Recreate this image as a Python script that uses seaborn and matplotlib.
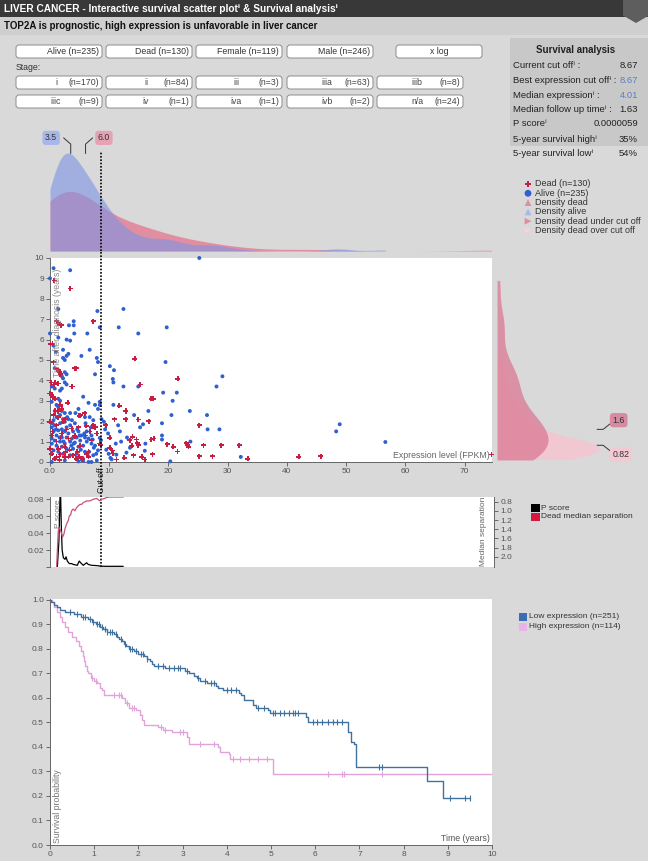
import numpy as np
import pandas as pd
import matplotlib
matplotlib.use("Agg")
import matplotlib.pyplot as plt
import matplotlib.transforms as mtransforms
from matplotlib.patches import FancyBboxPatch, Rectangle, RegularPolygon
import seaborn as sns

# ---------------- data ----------------
cutoff = 8.67
median_alive_expr = 3.5
median_dead_expr = 6.0
median_time_under = 1.6
median_time_over = 0.82

alive_expr = [25.2, 0.0, 3.4, 0.6, 12.4, 8.0, 1.4, 11.6, 19.7, 8.4, 3.2, 4.0, 4.0, 6.3, 4.1, 0.0, 1.4, 2.8, 3.4, 14.9,
              0.6, 1.0, 6.7, 5.3, 3.1, 2.2, 19.5, 10.1, 10.8, 10.6, 10.7, 29.1, 28.1, 14.9, 12.4, 19.1, 21.4, 20.7, 10.7, 8.4,
              23.6, 16.6, 20.5, 26.5, 18.9, 15.7, 15.2, 11.5, 11.8, 9.1, 8.7, 28.6, 26.6, 48.3, 48.9, 56.6, 18.9, 18.9, 23.7, 16.1,
              11.1, 11.2, 12.9, 32.2, 20.3, 10.4, 8.6, 8.4,
              2.2, 2.8, 2.5, 0.8, 1.4, 2.5, 2.8, 2.0, 2.2, 2.5, 2.8, 0.3, 0.8, 1.7, 2.0, 1.4, 1.7, 0.3, 1.1, 1.4,
              0.8, 2.0, 2.5, 3.4, 1.7, 1.1, 2.2, 0.6, 3.1, 3.7, 2.5, 1.7, 0.8, 0.3, 2.8, 3.4, 4.2, 2.0, 1.4, 0.6,
              2.5, 3.1, 3.9, 4.8, 1.1, 2.0, 0.3, 2.8, 3.7, 4.5, 5.3, 5.9, 6.5, 7.0, 0.8, 1.7, 2.5, 3.4, 4.2, 5.1,
              6.2, 5.6, 0.3, 1.1, 2.0, 2.8, 3.9, 4.8, 7.0, 7.6, 0.6, 1.4, 2.2, 3.4, 4.5, 5.9, 7.3, 8.1, 0.8, 2.5,
              4.8, 6.5, 7.9, 0.3, 5.6, 6.5, 5.9, 6.7, 7.3, 7.6, 8.1, 7.9, 8.4, 7.6, 8.1,
              4.6, 5.2, 5.8, 6.4, 6.9, 7.4, 4.3, 5.0, 5.5, 6.0, 6.6, 7.2, 7.8, 4.8, 5.4, 6.2, 0.4, 1.0, 1.6, 2.3,
              2.9, 3.6, 4.0, 5.6, 7.0, 9.5, 9.8, 10.2, 12.0, 13.5, 14.2, 9.3, 9.9, 13.0, 16.0]
alive_time = [10.0, 9.0, 9.4, 9.5, 7.5, 7.4, 7.5, 6.6, 6.6, 6.6, 6.7, 6.9, 6.7, 6.3, 6.3, 6.3, 6.1, 6.0, 5.95, 6.3,
              5.7, 5.4, 5.5, 5.2, 5.3, 5.5, 4.9, 4.7, 4.5, 4.07, 3.9, 4.2, 3.7, 3.7, 3.7, 3.4, 3.4, 3.0, 2.8, 2.95,
              2.5, 2.5, 2.3, 2.3, 1.9, 1.85, 1.7, 1.8, 1.5, 1.97, 2.1, 1.6, 1.6, 1.5, 1.85, 0.98, 1.3, 1.1, 1.0, 0.9,
              0.9, 0.36, 0.46, 0.25, 0.03, 0.13, 1.07, 1.18,
              5.1, 5.2, 5.0, 4.6, 4.5, 4.4, 4.3, 4.2, 4.1, 3.9, 3.8, 3.7, 3.6, 3.5, 3.6, 3.1, 3.0, 2.95, 2.8, 2.7,
              2.5, 2.5, 2.4, 2.4, 2.3, 2.2, 2.1, 2.05, 2.1, 2.05, 1.97, 1.9, 1.8, 1.7, 1.7, 1.8, 1.9, 1.6, 1.55, 1.5,
              1.5, 1.4, 1.5, 1.5, 1.3, 1.2, 1.15, 1.2, 1.15, 1.2, 1.3, 1.2, 1.15, 1.3, 1.05, 1.0, 0.9, 1.0, 0.95, 1.05,
              1.0, 0.8, 0.9, 0.8, 0.75, 0.65, 0.65, 0.75, 0.9, 0.8, 0.57, 0.5, 0.4, 0.33, 0.4, 0.5, 0.33, 0.57, 0.16, 0.08,
              0.03, 0.0, 0.08, 0.0, 3.2, 2.9, 2.2, 2.2, 2.05, 4.3, 4.9, 5.1, 2.8, 2.8, 2.6,
              1.6, 0.6, 1.4, 0.3, 1.7, 0.7, 2.4, 1.3, 0.2, 1.9, 0.5, 1.1, 0.4, 2.6, 0.1, 1.5, 1.9, 1.6, 1.2, 1.0,
              2.2, 0.8, 0.9, 0.05, 0.0, 0.6, 1.4, 0.2, 1.0, 0.7, 2.3, 1.6, 0.4, 1.2, 0.55]

dead_expr = [0.7, 3.4, 7.3, 1.1, 1.4, 1.9, 0.1, 0.4, 14.3, 0.6, 21.6, 15.2, 17.1, 17.4, 11.7, 12.8, 12.8, 10.9, 14.9, 16.7,
             25.2, 9.4, 13.9, 14.6, 13.5, 17.5, 17.1, 10.1, 19.8, 20.8, 21.5, 23.0, 23.2, 23.4, 25.9, 28.9, 31.9, 14.9, 14.7, 13.8,
             10.5, 10.1, 10.6, 25.2, 27.4, 33.4, 42.0, 45.7, 74.5, 15.5, 17.3, 14.1, 12.5, 16.0, 11.2, 8.6,
             4.2, 1.4, 1.7, 0.8, 1.4, 3.7, 0.3, 0.8, 0.0, 1.7, 0.6, 1.4, 2.5, 5.1, 5.9, 0.0, 2.2, 1.1, 3.7, 4.8,
             0.3, 2.0, 3.1, 1.1, 4.2, 6.7, 7.6, 7.3, 7.9, 0.0, 1.4, 2.5, 5.1, 6.2, 3.9, 1.1, 2.5, 6.5, 7.0, 8.4,
             0.5, 1.8, 2.6, 3.3, 4.6, 5.5, 6.0, 0.9, 2.0, 3.0, 0.3, 1.6, 4.4, 4.9, 3.1, 1.7, 0.8, 6.1, 4.9, 4.4,
             1.6, 1.1, 0.2, 0.7, 3.8, 0.5, 1.4, 2.8, 4.2, 6.5, 6.5, 7.3]
dead_time = [8.9, 8.5, 6.9, 6.9, 6.8, 6.7, 5.8, 5.8, 5.05, 4.9, 4.07, 3.8, 3.1, 3.1, 2.75, 2.5, 2.1, 2.1, 2.08, 2.0,
             1.8, 1.8, 1.23, 1.1, 1.07, 1.15, 1.1, 1.18, 0.87, 0.74, 0.52, 0.93, 0.82, 0.74, 0.82, 0.82, 0.82, 0.82, 0.93, 0.79,
             0.57, 0.69, 0.41, 0.28, 0.28, 0.16, 0.25, 0.28, 0.36, 0.25, 0.38, 0.33, 0.2, 0.13, 0.13, 0.82,
             4.6, 4.5, 4.3, 3.9, 3.85, 3.7, 3.3, 3.1, 3.35, 2.8, 2.3, 2.2, 2.1, 2.3, 2.4, 1.97, 1.97, 1.8, 1.64, 1.7,
             1.3, 1.4, 1.15, 1.0, 1.3, 1.5, 1.7, 1.8, 1.4, 0.65, 0.65, 0.75, 0.8, 0.4, 0.33, 0.25, 0.25, 0.25, 1.07, 0.9,
             1.5, 1.2, 0.5, 0.6, 0.5, 0.15, 1.3, 2.5, 2.6, 2.9, 0.4, 0.1, 0.16, 0.25, 0.25, 0.36, 0.16, 1.77, 2.26, 4.6,
             4.4, 4.55, 3.9, 3.8, 3.7, 3.2, 2.5, 1.6, 1.23, 0.52, 0.25, 1.72]

# p-score / median separation as a function of the cut off
p_x = [1.24, 1.5, 1.69, 1.8, 1.9, 2.05, 2.25, 2.53, 2.7, 2.92, 3.26, 3.65, 3.93, 4.6, 4.94, 5.17, 5.62, 6.18, 6.46,
       7.02, 8.15, 8.43, 9.55, 12.36]
p_val = [0.0, 0.03, 0.083, 0.083, 0.05, 0.02, 0.011, 0.009, 0.012, 0.007, 0.004, 0.004, 0.003, 0.002, 0.007, 0.005,
         0.002, 0.005, 0.003, 0.002, 0.0015, 0.001, 0.0008, 0.0008]
sep_x = [1.12, 1.24, 1.40, 1.57, 1.8, 2.13, 2.36, 2.53, 2.81, 3.09, 3.26, 3.48, 3.65, 3.93, 4.21, 4.49, 4.78, 5.06,
         5.34, 5.62, 6.18, 6.74, 7.3, 7.87, 8.43, 8.71, 9.27, 9.55, 10.1, 12.36]
sep_val = [2.21, 1.86, 1.43, 1.37, 1.43, 1.57, 1.5, 1.39, 1.28, 1.21, 1.11, 1.09, 1.0, 0.96, 1.0, 0.93, 0.89, 0.86,
           0.86, 0.82, 0.785, 0.785, 0.75, 0.73, 0.785, 0.75, 0.73, 0.71, 0.70, 0.70]

# Kaplan-Meier curves
low_t = [0, 0.03, 0.08, 0.15, 0.22, 0.35, 0.55, 0.7, 0.85, 0.95, 1.05, 1.12, 1.2, 1.28, 1.45, 1.52, 1.57, 1.62, 1.68,
         1.73, 1.78, 1.9, 1.98, 2.12, 2.2, 2.26, 2.3, 2.35, 2.6, 3.05, 3.15, 3.25, 3.32, 3.4, 3.55, 3.75, 3.8, 3.92,
         4.27, 4.32, 4.4, 4.6, 4.65, 4.93, 4.98, 5.8, 5.83, 6.74, 6.81, 6.88, 6.93, 8.53, 8.9, 9.5]
low_s = [1.0, 0.99, 0.98, 0.97, 0.96, 0.95, 0.94, 0.93, 0.92, 0.91, 0.90, 0.89, 0.88, 0.87, 0.86, 0.85, 0.84, 0.83, 0.82,
         0.81, 0.80, 0.79, 0.78, 0.77, 0.76, 0.75, 0.74, 0.73, 0.72, 0.71, 0.70, 0.69, 0.68, 0.67, 0.66, 0.65, 0.64, 0.63,
         0.62, 0.61, 0.59, 0.57, 0.56, 0.55, 0.54, 0.52, 0.50, 0.46, 0.42, 0.41, 0.32, 0.26, 0.19, 0.19]
high_t = [0, 0.05, 0.1, 0.15, 0.22, 0.28, 0.33, 0.4, 0.5, 0.58, 0.65, 0.7, 0.74, 0.78, 0.8, 0.83, 0.87, 0.93, 1.0, 1.07,
          1.13, 1.17, 1.22, 1.62, 1.7, 1.78, 1.95, 2.03, 2.08, 2.12, 2.45, 2.55, 2.75, 3.1, 3.15, 3.8, 3.85, 4.04, 4.08,
          5.05, 10.0]
high_s = [1.0, 0.99, 0.97, 0.95, 0.93, 0.91, 0.89, 0.87, 0.85, 0.83, 0.81, 0.79, 0.77, 0.75, 0.73, 0.71, 0.70, 0.68, 0.67,
          0.66, 0.64, 0.63, 0.61, 0.60, 0.58, 0.56, 0.55, 0.53, 0.51, 0.49, 0.48, 0.47, 0.46, 0.44, 0.41, 0.40, 0.38, 0.37,
          0.35, 0.29, 0.29]
low_cens = [0.45, 0.6, 0.75, 0.8, 0.9, 0.97, 1.07, 1.1, 1.18, 1.25, 1.3, 1.35, 1.4, 1.5, 1.6, 1.7, 1.8, 1.85, 1.95, 2.05,
            2.1, 2.2, 2.45, 2.55, 2.7, 2.8, 2.9, 2.95, 3.1, 3.35, 3.5, 3.65, 3.7, 4.0, 4.1, 4.2, 4.7, 4.85, 5.05, 5.1,
            5.2, 5.3, 5.4, 5.5, 5.55, 5.6, 5.95, 6.05, 6.15, 6.3, 6.4, 6.5, 6.6, 7.45, 7.5, 9.05, 9.4, 9.5]
high_cens = [0.95, 1.05, 1.45, 1.55, 1.6, 1.75, 1.85, 1.9, 2.5, 2.6, 2.95, 3.0, 3.4, 3.7, 4.15, 4.3, 4.5, 4.7, 4.9,
             6.3, 6.6, 6.65, 7.5]

buttons_row1 = ["Alive", "Dead", "Female", "Male", "x log"]
counts_row1 = ["(n=235)", "(n=130)", "(n=119)", "(n=246)", ""]
stages_row2 = ["i", "ii", "iii", "iiia", "iiib"]
counts_row2 = ["(n=170)", "(n=84)", "(n=3)", "(n=63)", "(n=8)"]
stages_row3 = ["iiic", "iv", "iva", "ivb", "n/a"]
counts_row3 = ["(n=9)", "(n=1)", "(n=1)", "(n=2)", "(n=24)"]

stat_labels = ["Current cut off\u2071 :", "Best expression cut off\u2071 :", "Median expression\u2071 :",
               "Median follow up time\u2071 :", "P score\u2071", "5-year survival high\u2071", "5-year survival low\u2071"]
stat_values = ["8.67", "8.67", "4.01", "1.63", "0.0000059", "35%", "54%"]

# ---------------- style ----------------
sns.set_theme(style="white")
FONTS = ["Liberation Sans Narrow", "Liberation Sans", "DejaVu Sans"]
plt.rcParams["font.family"] = FONTS

W, H = 648, 861
BG = "#d9d9d9"
fig = plt.figure(figsize=(W / 100, H / 100), dpi=100)
fig.patch.set_facecolor(BG)


def box(x0, y0, x1, y1):
    return [x0 / W, 1 - y1 / H, (x1 - x0) / W, (y1 - y0) / H]


# overlay (pixel coordinates) for the page furniture
ax0 = fig.add_axes([0, 0, 1, 1], zorder=0)
ax0.set_xlim(0, W)
ax0.set_ylim(H, 0)
ax0.axis("off")
ax0.add_patch(Rectangle((0, 0), W, 17, fc="#383838", ec="none"))
ax0.add_patch(Rectangle((0, 17), W, 18, fc="#cfcfcf", ec="none"))
ax0.add_patch(RegularPolygon((636, 8), 6, radius=15, fc="#5e5e5e", ec="none"))
ax0.add_patch(Rectangle((510, 38), W - 510, 108, fc="#c8c8c8", ec="none"))
ax0.text(4, 8.5, "LIVER CANCER - Interactive survival scatter plot\u2071 & Survival analysis\u2071",
         color="white", fontsize=7.3, fontweight="bold", va="center", ha="left")
ax0.text(4, 26, "TOP2A is prognostic, high expression is unfavorable in liver cancer",
         color="#111111", fontsize=7, fontweight="bold", va="center", ha="left")

xs5 = [16, 106, 196, 287, 377]
bw = 86
for i, (lab, cnt) in enumerate(zip(buttons_row1, counts_row1)):
    x0 = xs5[i] if i < 4 else 396
    ax0.add_patch(FancyBboxPatch((x0, 45), bw, 13, boxstyle="round,pad=0,rounding_size=3",
                                 fc="white", ec="#8c8c8c", lw=0.7))
    if cnt:
        ax0.text(x0 + bw - 3, 51.5, lab + " " + cnt, ha="right", va="center", fontsize=6.3, color="#333333")
    else:
        ax0.text(x0 + bw / 2, 51.5, lab, ha="center", va="center", fontsize=6.3, color="#333333")
ax0.text(16, 67, "Stage:", ha="left", va="center", fontsize=6.3, color="#333333")
for yy, labs, cnts in [(76, stages_row2, counts_row2), (95, stages_row3, counts_row3)]:
    for i, (lab, cnt) in enumerate(zip(labs, cnts)):
        x0 = xs5[i]
        ax0.add_patch(FancyBboxPatch((x0, yy), bw, 13, boxstyle="round,pad=0,rounding_size=3",
                                     fc="white", ec="#8c8c8c", lw=0.7))
        ax0.text(x0 + 40, yy + 6.5, lab, ha="center", va="center", fontsize=6.3, color="#444444")
        ax0.text(x0 + bw - 3, yy + 6.5, cnt, ha="right", va="center", fontsize=6.3, color="#444444")

# survival analysis table
ax0.text(576, 50, "Survival analysis", ha="center", va="center", fontsize=7, fontweight="bold", color="#222222")
row_y = [65.5, 80.5, 95, 110, 123.5, 139, 153]
for lab, val, yy, k in zip(stat_labels, stat_values, row_y, range(7)):
    ax0.text(513, yy, lab, ha="left", va="center", fontsize=6.8, color="#222222")
    col = "#5b7fc4" if k in (1, 2) else "#222222"
    ax0.text(638, yy, val, ha="right", va="center", fontsize=6.8, color=col)
    if k == 0:
        ax0.add_patch(Rectangle((608, 58.5), 31, 12, fc="white", ec="#777777", lw=0.6, zorder=0.5))

# scatter/density legend
leg_items = [("P", "#c81e45", "Dead (n=130)"), ("o", "#2f5fd0", "Alive (n=235)"),
             ("^", "#e08ea2", "Density dead"), ("^", "#a9b8ea", "Density alive"),
             (">", "#e08ea2", "Density dead under cut off"), (">", "#f5d2dc", "Density dead over cut off")]
for j, (mk, col, txt) in enumerate(leg_items):
    yy = 184 + j * 9.3
    ax0.scatter([528], [yy], marker=mk, s=24, color=col, edgecolors="none")
    ax0.text(535, yy, txt, ha="left", va="center", fontsize=6.5, color="#333333")

# p-score legend
ax0.add_patch(Rectangle((531, 504), 8.5, 8, fc="black", ec="none"))
ax0.text(541, 508, "P score", ha="left", va="center", fontsize=6, color="#333333")
ax0.add_patch(Rectangle((531, 513), 8.5, 8, fc="#d6173f", ec="none"))
ax0.text(541, 517, "Dead median separation", ha="left", va="center", fontsize=6, color="#333333")

# KM legend
C_LOW, C_HIGH = "#41729f", "#e2a2da"
ax0.add_patch(Rectangle((519, 613), 8, 7.5, fc="#3d6cb5", ec="none"))
ax0.text(529, 617, "Low expression (n=251)", ha="left", va="center", fontsize=6, color="#333333")
ax0.add_patch(Rectangle((519, 623), 8, 7.5, fc="#ebb2e5", ec="none"))
ax0.text(529, 627, "High expression (n=114)", ha="left", va="center", fontsize=6, color="#333333")

TICK = dict(direction="out", length=3, width=0.6, colors="#555555", labelsize=6, pad=1.5)
SPINE_C = "#666666"
XMAX = 74.6

alive_df = pd.DataFrame({"expr": alive_expr, "time": alive_time})
dead_df = pd.DataFrame({"expr": dead_expr, "time": dead_time})

# ---------------- top density ----------------
ax_top = fig.add_axes(box(50, 126, 492, 251), zorder=2)
ax_top.patch.set_alpha(0)
sns.kdeplot(x=dead_df["expr"], fill=True, color="#e2869b", alpha=0.9, linewidth=0, cut=0, bw_adjust=1.15, ax=ax_top)
sns.kdeplot(x=alive_df["expr"], fill=True, color="#7d94e6", alpha=0.6, linewidth=0, cut=0, bw_adjust=0.75, ax=ax_top)
peak = max(c.get_paths()[0].vertices[:, 1].max() for c in ax_top.collections)
ax_top.set_xlim(0, XMAX)
ax_top.set_ylim(0, peak * 125 / 98)
ax_top.axis("off")
ax_top.axvline(cutoff, ymin=0, ymax=0.79, color="black", lw=1.2, ls=(0, (1, 1)))
bt = mtransforms.blended_transform_factory(ax_top.transData, ax_top.transAxes)
ax_top.plot([median_alive_expr, median_alive_expr, median_alive_expr - 1.2], [0.78, 0.855, 0.905],
            color="#333333", lw=0.7, transform=bt, clip_on=False)
ax_top.plot([median_dead_expr, median_dead_expr, median_dead_expr + 1.2], [0.78, 0.855, 0.905],
            color="#333333", lw=0.7, transform=bt, clip_on=False)
ax_top.text(median_alive_expr - 3.3, 0.905, f"{median_alive_expr:.1f}", transform=bt, ha="center", va="center",
            fontsize=6.3, color="#333333", clip_on=False,
            bbox=dict(boxstyle="round,pad=0.3,rounding_size=0.4", fc="#a8b7ea", ec="none"))
ax_top.text(median_dead_expr + 3.1, 0.905, f"{median_dead_expr:.1f}", transform=bt, ha="center", va="center",
            fontsize=6.3, color="#333333", clip_on=False,
            bbox=dict(boxstyle="round,pad=0.3,rounding_size=0.4", fc="#e5a2b3", ec="none"))

# ---------------- scatter ----------------
ax_sc = fig.add_axes(box(50, 258, 492, 462), zorder=2)
ax_sc.set_facecolor("white")
sns.scatterplot(data=alive_df, x="expr", y="time", marker="o", s=8, color="#2f5fd0", edgecolor="none",
                ax=ax_sc, clip_on=False, zorder=3)
sns.scatterplot(data=dead_df, x="expr", y="time", marker="P", s=13, color="#c81e45", edgecolor="none",
                ax=ax_sc, clip_on=False, zorder=3)
ax_sc.set_xlim(0, XMAX)
ax_sc.set_ylim(0, 10)
ax_sc.set_xticks(range(0, 80, 10))
ax_sc.set_xticklabels(["0.0"] + [str(v) for v in range(10, 80, 10)])
ax_sc.set_yticks(range(0, 11))
ax_sc.tick_params(bottom=True, left=True, **TICK)
for s in ["top", "right"]:
    ax_sc.spines[s].set_visible(False)
for s in ["left", "bottom"]:
    ax_sc.spines[s].set_color(SPINE_C)
    ax_sc.spines[s].set_linewidth(0.7)
ax_sc.set_xlabel("")
ax_sc.set_ylabel("")
ax_sc.text(0.006, 0.95, "Time after diagnosis (years)", rotation=90, ha="left", va="top",
           transform=ax_sc.transAxes, fontsize=6.3, color="#8a8a8a")
ax_sc.text(0.995, 0.012, "Expression level (FPKM)", ha="right", va="bottom",
           transform=ax_sc.transAxes, fontsize=6.3, color="#666666")
ax_sc.axvline(cutoff, ymin=-0.172, ymax=1.035, color="black", lw=1.2, ls=(0, (1, 1)), clip_on=False, zorder=4)
bs = mtransforms.blended_transform_factory(ax_sc.transData, ax_sc.transAxes)
ax_sc.text(cutoff, -0.028, "Cut off", rotation=90, ha="center", va="top", transform=bs,
           fontsize=6.3, color="#222222")

# ---------------- right density (dead, split by cut off) ----------------
ax_r = fig.add_axes(box(497, 258, 607, 462), zorder=2)
ax_r.patch.set_alpha(0)
over = dead_df[dead_df["expr"] >= cutoff]
under = dead_df[dead_df["expr"] < cutoff]
sns.kdeplot(y=over["time"], fill=True, color="#f3c6d2", alpha=0.95, linewidth=0, cut=0, bw_adjust=0.9, ax=ax_r)
sns.kdeplot(y=under["time"], fill=True, color="#dc7f99", alpha=0.8, linewidth=0, cut=0, bw_adjust=0.9, ax=ax_r)
rpeak = max(c.get_paths()[0].vertices[:, 0].max() for c in ax_r.collections)
ax_r.set_xlim(0, rpeak * 110 / 103)
ax_r.set_ylim(0, 10)
ax_r.axis("off")
br = mtransforms.blended_transform_factory(ax_r.transAxes, ax_r.transData)
ax_r.plot([0.91, 0.965, 1.035], [median_time_under, median_time_under, median_time_under + 0.3],
          color="#333333", lw=0.7, transform=br, clip_on=False)
ax_r.plot([0.91, 0.965, 1.035], [median_time_over, median_time_over, median_time_over - 0.3],
          color="#333333", lw=0.7, transform=br, clip_on=False)
ax_r.text(1.05, median_time_under + 0.45, f"{median_time_under}", transform=br, ha="left", va="center",
          fontsize=6.3, color="#333333", clip_on=False,
          bbox=dict(boxstyle="round,pad=0.3,rounding_size=0.4", fc="#d58ba1", ec="none"))
ax_r.text(1.05, median_time_over - 0.45, f"{median_time_over}", transform=br, ha="left", va="center",
          fontsize=6.3, color="#333333", clip_on=False,
          bbox=dict(boxstyle="round,pad=0.3,rounding_size=0.4", fc="#f3c9d4", ec="none"))

# ---------------- p-score panel ----------------
ax_p = fig.add_axes(box(50, 497, 494, 567), zorder=2)
ax_p.set_facecolor("white")
sns.lineplot(x=p_x, y=p_val, color="black", lw=0.9, ax=ax_p, estimator=None, sort=False)
ax_p.set_xlim(0, XMAX * 444 / 442)
ax_p.set_ylim(0, 0.0824)
ax_p.set_yticks([0, 0.02, 0.04, 0.06, 0.08])
ax_p.set_yticklabels(["", "0.02", "0.04", "0.06", "0.08"])
ax_p.set_xticks([])
ax_p.tick_params(left=True, **TICK)
for s in ["top", "bottom", "right"]:
    ax_p.spines[s].set_visible(False)
ax_p.spines["left"].set_color(SPINE_C)
ax_p.spines["left"].set_linewidth(0.7)
ax_p.axvline(cutoff, color="black", lw=1.2, ls=(0, (1, 1)), zorder=4)
ax_p.text(0.012, 0.97, "P score", rotation=90, ha="left", va="top", transform=ax_p.transAxes,
          fontsize=6, color="#777777")
ax_p2 = ax_p.twinx()
sns.lineplot(x=sep_x, y=sep_val, color="#c5527a", lw=0.9, ax=ax_p2, estimator=None, sort=False)
ax_p2.set_ylim(2.22, 0.70)
ax_p2.set_yticks([0.8, 1.0, 1.2, 1.4, 1.6, 1.8, 2.0])
ax_p2.set_yticklabels(["0.8", "1.0", "1.2", "1.4", "1.6", "1.8", "2.0"])
ax_p2.tick_params(right=True, **TICK)
for s in ["top", "bottom", "left"]:
    ax_p2.spines[s].set_visible(False)
ax_p2.spines["right"].set_color(SPINE_C)
ax_p2.spines["right"].set_linewidth(0.7)
ax_p2.set_ylabel("")
ax_p2.text(0.985, 0.02, "Median separation", rotation=90, ha="right", va="bottom", transform=ax_p2.transAxes,
           fontsize=6, color="#666666")

# ---------------- Kaplan-Meier ----------------
ax_km = fig.add_axes(box(50, 599, 492, 845), zorder=2)
ax_km.set_facecolor("white")
sns.lineplot(x=high_t, y=high_s, drawstyle="steps-post", color=C_HIGH, lw=1.0, ax=ax_km, estimator=None, sort=False)
sns.lineplot(x=low_t, y=low_s, drawstyle="steps-post", color=C_LOW, lw=1.0, ax=ax_km, estimator=None, sort=False)
lt, ls_ = np.array(low_t), np.array(low_s)
ht, hs = np.array(high_t), np.array(high_s)
low_cy = ls_[np.searchsorted(lt, low_cens, side="right") - 1]
high_cy = hs[np.searchsorted(ht, high_cens, side="right") - 1]
sns.scatterplot(x=high_cens, y=high_cy, marker="|", s=14, color=C_HIGH, linewidth=0.8, ax=ax_km)
sns.scatterplot(x=low_cens, y=low_cy, marker="|", s=14, color=C_LOW, linewidth=0.8, ax=ax_km)
ax_km.set_xlim(0, 10)
ax_km.set_ylim(0, 1.003)
ax_km.set_xticks(range(0, 11))
ax_km.set_yticks(np.round(np.arange(0, 1.01, 0.1), 1))
ax_km.set_yticklabels([f"{v:.1f}" for v in np.arange(0, 1.01, 0.1)])
ax_km.tick_params(bottom=True, left=True, **TICK)
for s in ["top", "right"]:
    ax_km.spines[s].set_visible(False)
for s in ["left", "bottom"]:
    ax_km.spines[s].set_color(SPINE_C)
    ax_km.spines[s].set_linewidth(0.7)
ax_km.set_xlabel("")
ax_km.set_ylabel("")
ax_km.text(0.006, 0.008, "Survival probability", rotation=90, ha="left", va="bottom",
           transform=ax_km.transAxes, fontsize=6.3, color="#777777")
ax_km.text(0.995, 0.008, "Time (years)", ha="right", va="bottom",
           transform=ax_km.transAxes, fontsize=6.3, color="#555555")

fig.savefig("out.png", dpi=100, facecolor=fig.get_facecolor())
